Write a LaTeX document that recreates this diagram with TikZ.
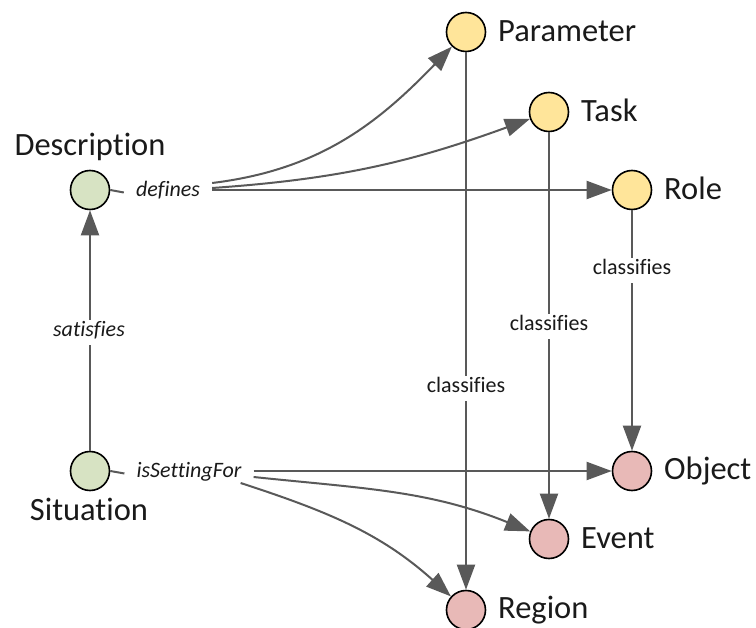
\documentclass[tikz,border=0pt]{standalone}
\usepackage{fontspec}
\setmainfont[Ligatures=NoCommon]{Carlito}
\usetikzlibrary{arrows.meta}
\definecolor{lncol}{HTML}{595959}
\definecolor{grn}{HTML}{D7E3C3}
\definecolor{ylw}{HTML}{FFE59A}
\definecolor{pnk}{HTML}{E8B9B7}
\definecolor{txt}{HTML}{1A1A1A}
\begin{document}
\begin{tikzpicture}[x=1pt,y=-1pt,
  concept/.style={circle,draw=black,line width=1.6pt,minimum size=39pt,inner sep=0pt},
  bigtxt/.style={font=\fontsize{32.5}{32.5}\selectfont,text=txt,inner sep=0pt,anchor=base west},
  elabel/.style={font=\fontsize{22}{22}\selectfont,text=txt,text height=14pt,text depth=5pt,inner ysep=3pt,inner xsep=12pt},
  clabel/.style={elabel,fill=white,inner xsep=2pt},
  conn/.style={draw=lncol,line width=2pt,-{Triangle[length=25pt,width=18pt]}},
  stub/.style={draw=lncol,line width=2pt}]
\useasboundingbox (0,0) rectangle (756,628);

% concept nodes
\node[concept,fill=grn] (desc) at (90,190) {};
\node[concept,fill=grn] (sit) at (90,471) {};
\node[concept,fill=ylw] (param) at (466,32) {};
\node[concept,fill=ylw] (task) at (549,112) {};
\node[concept,fill=ylw] (role) at (632,190) {};
\node[concept,fill=pnk] (obj) at (632,471) {};
\node[concept,fill=pnk] (event) at (549,539) {};
\node[concept,fill=pnk] (region) at (466,610) {};

% concept labels
\node[bigtxt,anchor=base] (descL) at (90,156) {Description};
\node[bigtxt,anchor=base] (sitL) at (89,521) {Situation};
\node[bigtxt] (paramL) at (498,42) {Parameter};
\node[bigtxt] (taskL) at (581,122) {Task};
\node[bigtxt] (roleL) at (664,200) {Role};
\node[bigtxt] (objL) at (664,480) {Object};
\node[bigtxt] (eventL) at (581,548) {Event};
\node[bigtxt] (regionL) at (498,619) {Region};

% edge label nodes (defines / isSettingFor)
\node[elabel,font=\fontsize{22}{22}\selectfont\itshape] (defines) at (168,192.5) {defines};
\node[elabel,font=\fontsize{22}{22}\selectfont\itshape] (isf) at (189,473.5) {isSettingFor};

% stubs
\draw[stub] (desc.east) -- (defines.west);
\draw[stub] (sit.east) -- (isf.west);

% defines
\draw[conn] ([yshift=9.5pt]defines.east) to[out=7,in=226] (param);
\draw[conn] ([yshift=4.5pt]defines.east) to[out=4,in=200] (task);
\draw[conn] (role -| defines.east) -- (role);

% isSettingFor
\draw[conn] (obj -| isf.east) -- (obj);
\draw[conn] ([yshift=-3.5pt]isf.east) to[out=-6,in=158] (event);
\draw[conn] ([xshift=-13pt,yshift=-9.5pt]isf.east) to[out=-18,in=138] (region);

% satisfies
\draw[conn] (sit) -- (desc);
\node[clabel,font=\fontsize{22}{22}\selectfont\itshape] (sat) at (89,332.5) {satisfies};

% classifies
\draw[conn] (param) -- (region);
\draw[conn] (task) -- (event);
\draw[conn] (role) -- (obj);
\node[clabel] (cl1) at (466,388.5) {classifies};
\node[clabel] (cl2) at (549,326.5) {classifies};
\node[clabel] (cl3) at (632,270.5) {classifies};
\end{tikzpicture}
\end{document}
